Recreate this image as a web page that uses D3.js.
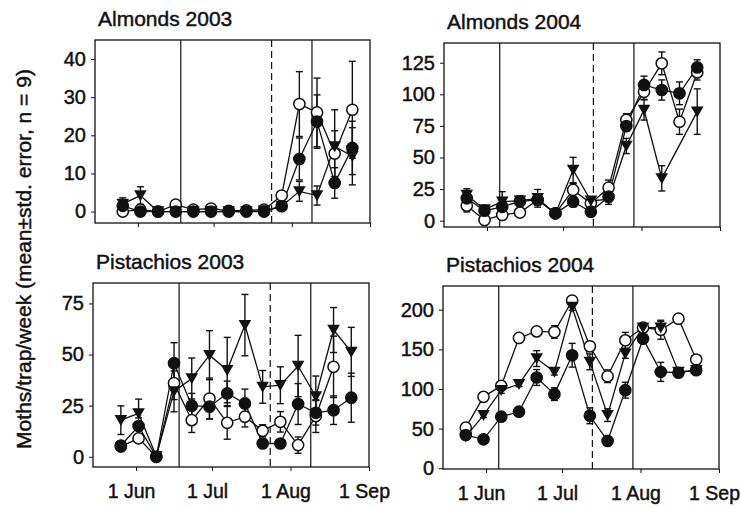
<!DOCTYPE html>
<html>
<head>
<meta charset="utf-8">
<script src="https://cdn.jsdelivr.net/npm/d3@7"></script>
<style>
  body { margin: 0; background: #fff; }
  svg { display: block; font-family: "Liberation Sans", Arial, sans-serif; }
</style>
</head>
<body>
<svg id="chart" width="741" height="508"></svg>
<script>
// Moth trap counts, four panels (almonds / pistachios, 2003 / 2004)

const dates2003 = ["05-26","06-02","06-09","06-16","06-23","06-30","07-07","07-14","07-21","07-28","08-04","08-11","08-18","08-25"];
const dates2004 = ["05-24","05-31","06-07","06-14","06-21","06-28","07-05","07-12","07-19","07-26","08-02","08-09","08-16","08-23"];
const monthTicks = ["06-01","07-01","08-01","09-01"];

// Almonds 2003
const alm03Filled    = [1.5, 0, 0, 0, 0, 0, 0, 0, 0, 1.4, 13.8, 23.6, 7.5, 16.7];
const alm03FilledErr = [0.5, 0, 0, 0, 0, 0, 0, 0, 0, 0.5, 5.5, 7, 4, 7];
const alm03Open      = [0, 0.5, 0, 1.8, 0.5, 0.8, 0.2, 0.3, 0.5, 4.2, 28.2, 26, 15.2, 26.7];
const alm03OpenErr   = [0.5, 0.3, 0, 0.5, 0.3, 0.3, 0, 0, 0.3, 1, 8.5, 9, 6, 12.7];
const alm03Tri       = [2.0, 4.2, 0, 0, 0, 0, 0, 0, 0.2, 1.4, 5.3, 4.2, 17.1, 14.5];
const alm03TriErr    = [1.6, 2.3, 0, 0, 0, 0, 0, 0, 0, 0.5, 2.6, 2.5, 9.6, 7.5];

// Almonds 2004
const alm04Filled    = [17.7, 7.9, 11, 15.3, 16.4, 5.8, 15, 7.1, 19, 74.9, 107.4, 103.4, 100.8, 121.3];
const alm04FilledErr = [4, 3, 4, 4, 4, 2, 4, 3, 4, 4, 7, 8, 9, 6];
const alm04Open      = [11.9, 0.5, 4.5, 6.4, 16.5, 5.8, 24.3, 13.7, 26.1, 79.7, 102, 124.5, 78.3, 117.3];
const alm04OpenErr   = [5, 2, 3, 2, 3, 2, 5, 3, 6, 5, 6, 9, 10, 6];
const alm04Tri       = [20.3, 8.9, 15, 15.8, 17.7, 5.5, 40.1, 15.8, 16.9, 59.1, 87.6, 33.5, null, 86.3];
const alm04TriErr    = [5, 3, 8, 4, 7, 2, 10, 3, 4, 6, 8, 10, 0, 18];

// Pistachios 2003
const pis03Filled    = [5.5, 15, 0, 45.8, 25, 24.5, 31, 26.1, 6.5, 6.5, 25.8, 21.5, 22.8, 28.9];
const pis03FilledErr = [2, 4, 1, 10, 6, 6, 6, 7, 2, 2, 10, 6, 7, 12];
const pis03Open      = [5, 9, 0, 36, 17.9, 28.5, 16.6, 19.6, 12.7, 17.1, 5.7, 19.9, 44, null];
const pis03OpenErr   = [1, 2, 1, 8, 6, 10, 8, 5, 3, 5, 4, 8, 15, 0];
const pis03Tri       = [17.9, 21.2, 0.3, 32, 38.3, 49.7, 42.4, 64.4, 34.2, 35, 44.4, 29.5, 62, 51.3];
const pis03TriErr    = [7, 7, 1, 10, 10, 12, 16, 15, 8, 9, 15, 10, 11, 12];

// Pistachios 2004
const pis04Filled    = [41.9, 36.5, 65, 71.3, 114.5, 93.5, 142.6, 66.2, 34.4, 98.5, 163.5, 121.6, 120.5, 123.7];
const pis04FilledErr = [3, 3, 3, 4, 10, 8, 15, 10, 3, 10, 5, 12, 3, 3];
const pis04Open      = [51.2, 90.1, 104, 164.4, 172.7, 171.9, 211.7, 153.9, 116.1, 161.4, 177.4, 174.8, 188.7, 137.1];
const pis04OpenErr   = [3, 3, 3, 3, 3, 8, 4, 6, 8, 10, 5, 12, 3, 4];
const pis04Tri       = [39.8, 67, 98.5, 106, 138.4, 121.6, 203.4, 134.2, 67, 144.7, 177.4, 177.4, 121.6, 123.7];
const pis04TriErr    = [3, 3, 4, 3, 10, 4, 4, 10, 8, 6, 5, 8, 3, 3];

const parseMD = d3.timeParse("%m-%d");
const fmtTick = d3.timeFormat("%-d %b");

const panels = [
  { title: "Almonds 2003", dates: dates2003, box: [95, 370, 40, 223], yDomain: [-3, 45], yTicks: [0, 10, 20, 30, 40],
    vlines: [["06-18", false], ["07-24", true], ["08-09", false]], labels: false,
    series: [[alm03Open, alm03OpenErr, "open"], [alm03Tri, alm03TriErr, "tri"], [alm03Filled, alm03FilledErr, "filled"]] },
  { title: "Almonds 2004", dates: dates2004, box: [444, 720, 43, 227], yDomain: [-5, 140.6], yTicks: [0, 25, 50, 75, 100, 125],
    vlines: [["06-06", false], ["07-13", true], ["07-29", false]], labels: false,
    series: [[alm04Open, alm04OpenErr, "open"], [alm04Tri, alm04TriErr, "tri"], [alm04Filled, alm04FilledErr, "filled"]] },
  { title: "Pistachios 2003", dates: dates2003, box: [93, 369, 283, 467], yDomain: [-5, 85], yTicks: [0, 25, 50, 75],
    vlines: [["06-18", false], ["07-24", true], ["08-09", false]], labels: true,
    series: [[pis03Open, pis03OpenErr, "open"], [pis03Tri, pis03TriErr, "tri"], [pis03Filled, pis03FilledErr, "filled"]] },
  { title: "Pistachios 2004", dates: dates2004, box: [443, 719, 286, 469], yDomain: [-1, 230], yTicks: [0, 50, 100, 150, 200],
    vlines: [["06-06", false], ["07-13", true], ["07-29", false]], labels: true,
    series: [[pis04Open, pis04OpenErr, "open"], [pis04Tri, pis04TriErr, "tri"], [pis04Filled, pis04FilledErr, "filled"]] }
];

const ink = "#111";
const svg = d3.select("#chart");
svg.append("rect").attr("width", 741).attr("height", 508).attr("fill", "#fff");

// scanned print looks a bit heavier than plain Arial
function heavy(sel) {
  sel.attr("fill", ink).attr("stroke", ink).attr("stroke-width", 0.45);
}

const triPath = "M-6.3,-5.2L6.3,-5.2L0,5.8Z";

panels.forEach(p => {
  const [x0, x1, y0, y1] = p.box;
  const x = d3.scaleTime().domain([parseMD("05-15"), parseMD("09-01")]).range([x0, x1]);
  const y = d3.scaleLinear().domain(p.yDomain).range([y1, y0]);
  const g = svg.append("g");

  // y axis
  const ya = g.append("g")
    .attr("transform", `translate(${x0},0)`)
    .call(d3.axisLeft(y).tickValues(p.yTicks).tickSize(4).tickPadding(5));
  ya.select(".domain").remove();
  ya.selectAll("line").attr("stroke", ink).attr("stroke-width", 1);
  ya.selectAll("text").attr("font-size", 20).attr("font-family", "Liberation Sans, Arial, sans-serif").call(heavy);

  // x axis
  const xa = g.append("g")
    .attr("transform", `translate(0,${y1})`)
    .call(d3.axisBottom(x).tickValues(monthTicks.map(parseMD)).tickSize(4).tickPadding(13)
      .tickFormat(p.labels ? fmtTick : () => ""));
  xa.select(".domain").remove();
  xa.selectAll("line").attr("stroke", ink).attr("stroke-width", 1);
  xa.selectAll("text").attr("font-size", 19.5).attr("dx", -5)
    .attr("font-family", "Liberation Sans, Arial, sans-serif").call(heavy);

  // frame
  g.append("rect")
    .attr("x", x0).attr("y", y0).attr("width", x1 - x0).attr("height", y1 - y0)
    .attr("fill", "none").attr("stroke", ink).attr("stroke-width", 1.3);

  // period lines
  g.selectAll(".vline").data(p.vlines).join("line")
    .attr("x1", d => x(parseMD(d[0]))).attr("x2", d => x(parseMD(d[0])))
    .attr("y1", y0).attr("y2", y1)
    .attr("stroke", ink).attr("stroke-width", 1.2)
    .attr("stroke-dasharray", d => d[1] ? "7,4" : null);

  // title
  g.append("text")
    .attr("x", x0 + 3).attr("y", y0 - 14)
    .attr("font-size", 21)
    .text(p.title)
    .call(heavy);

  const seriesPts = p.series.map(([vals, errs, kind]) => ({
    kind,
    pts: vals.map((v, i) => ({ date: parseMD(p.dates[i]), v, e: errs[i] })).filter(d => d.v != null)
  }));

  const line = d3.line().x(d => x(d.date)).y(d => y(d.v));

  g.selectAll(".sline").data(seriesPts).join("path")
    .attr("d", d => line(d.pts))
    .attr("fill", "none").attr("stroke", ink).attr("stroke-width", 1.3);

  // error bars
  seriesPts.forEach(s => {
    const eb = g.append("g").selectAll("g").data(s.pts.filter(d => d.e > 0)).join("g");
    eb.append("line")
      .attr("x1", d => x(d.date)).attr("x2", d => x(d.date))
      .attr("y1", d => y(d.v - d.e)).attr("y2", d => y(d.v + d.e))
      .attr("stroke", ink).attr("stroke-width", 1.4);
    eb.append("line")
      .attr("x1", d => x(d.date) - 3.5).attr("x2", d => x(d.date) + 3.5)
      .attr("y1", d => y(d.v + d.e)).attr("y2", d => y(d.v + d.e))
      .attr("stroke", ink).attr("stroke-width", 1.4);
    eb.append("line")
      .attr("x1", d => x(d.date) - 3.5).attr("x2", d => x(d.date) + 3.5)
      .attr("y1", d => y(d.v - d.e)).attr("y2", d => y(d.v - d.e))
      .attr("stroke", ink).attr("stroke-width", 1.4);
  });

  // markers
  seriesPts.forEach(s => {
    const m = g.append("g");
    if (s.kind === "tri") {
      m.selectAll("path").data(s.pts).join("path")
        .attr("d", triPath)
        .attr("transform", d => `translate(${x(d.date)},${y(d.v)})`)
        .attr("fill", ink);
    } else {
      m.selectAll("circle").data(s.pts).join("circle")
        .attr("cx", d => x(d.date)).attr("cy", d => y(d.v))
        .attr("r", 5.6)
        .attr("fill", s.kind === "filled" ? ink : "#fff")
        .attr("stroke", ink).attr("stroke-width", 1.5);
    }
  });
});

// shared y label
svg.append("text")
  .attr("transform", "translate(31,259) rotate(-90)")
  .attr("text-anchor", "middle")
  .attr("font-size", 21)
  .text("Moths/trap/week (mean\u00b1std. error, n = 9)")
  .call(heavy);
</script>
</body>
</html>
